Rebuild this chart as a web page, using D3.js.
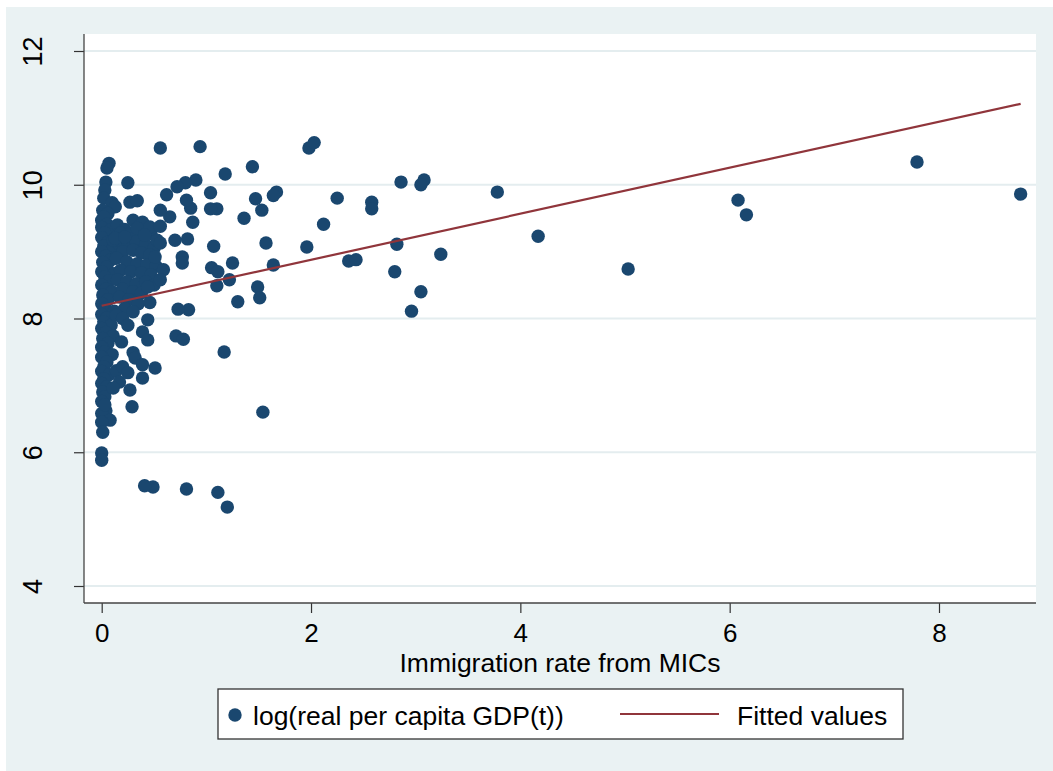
<!DOCTYPE html>
<html>
<head>
<meta charset="utf-8">
<script src="https://cdn.jsdelivr.net/npm/d3@7"></script>
<style>
  html, body { margin: 0; padding: 0; background: #ffffff; }
  svg { display: block; font-family: "Liberation Sans", Arial, sans-serif; }
</style>
</head>
<body>
<div id="chart"></div>
<script>
// scatter data: [immigration rate from MICs, log real per capita GDP]
const nearZero = [
  [0.07, 10.32], [0.05, 10.25], [0.04, 10.04], [0.03, 9.92], [0.02, 9.80], [0.10, 9.73], [0.13, 9.67],
  [0.00, 9.47], [0.01, 9.62], [0.06, 9.57], [0.02, 9.52], [0.05, 9.41], [0.00, 9.36], [0.09, 9.33],
  [0.03, 9.28], [0.00, 9.21], [0.06, 9.14], [0.02, 9.08], [0.11, 9.05], [0.00, 9.00], [0.04, 8.93],
  [0.09, 8.88], [0.01, 8.84], [0.05, 8.77], [0.00, 8.70], [0.12, 8.67], [0.03, 8.62], [0.07, 8.56],
  [0.00, 8.50], [0.04, 8.44], [0.10, 8.40], [0.01, 8.35], [0.06, 8.28], [0.00, 8.22], [0.03, 8.15],
  [0.12, 8.11], [0.00, 8.06], [0.05, 8.01], [0.02, 7.95], [0.09, 7.90], [0.00, 7.85], [0.04, 7.79],
  [0.11, 7.74], [0.01, 7.70], [0.06, 7.63], [0.00, 7.57], [0.03, 7.50], [0.10, 7.46], [0.00, 7.42],
  [0.05, 7.35], [0.02, 7.28], [0.00, 7.21], [0.07, 7.16], [0.02, 7.10], [0.00, 7.03], [0.05, 6.98],
  [0.01, 6.90], [0.03, 6.83], [0.00, 6.76], [0.04, 6.62], [0.00, 6.58], [0.03, 6.71], [0.08, 6.48],
  [0.00, 6.45], [0.01, 6.30], [0.00, 5.99], [0.00, 5.88]
];

const denseBlob = [
  [0.15, 9.40], [0.22, 9.33], [0.18, 9.28], [0.28, 9.28], [0.38, 9.30], [0.47, 9.27], [0.16, 9.12],
  [0.25, 9.10], [0.33, 9.15], [0.42, 9.10], [0.50, 9.05], [0.20, 9.00], [0.30, 9.02],
  [0.38, 8.98], [0.46, 8.95], [0.14, 8.90], [0.24, 8.85], [0.34, 8.82],
  [0.43, 8.80], [0.52, 8.78], [0.18, 8.72], [0.28, 8.70], [0.38, 8.68], [0.47, 8.65],
  [0.15, 8.58], [0.24, 8.55], [0.33, 8.52], [0.42, 8.55], [0.50, 8.50], [0.20, 8.44],
  [0.30, 8.40], [0.38, 8.38], [0.17, 8.32], [0.26, 8.28], [0.35, 8.22], [0.22, 8.15], [0.14, 8.05],
  [0.20, 8.00], [0.30, 8.10], [0.14, 7.22], [0.17, 7.05],
  [0.11, 9.17], [0.13, 9.20], [0.22, 9.22]
];

const midRange = [
  [1.67, 9.89], [1.64, 9.84], [1.53, 9.62], [1.47, 9.79], [1.44, 10.27], [1.57, 9.13], [1.64, 8.80],
  [1.49, 8.47], [1.51, 8.31], [1.54, 6.60], [1.36, 9.50], [1.30, 8.25], [1.25, 8.83], [1.22, 8.58],
  [1.18, 10.16], [1.17, 7.50], [1.20, 5.18], [1.11, 5.40], [1.10, 9.64], [1.04, 9.64], [1.04, 9.88],
  [1.07, 9.08], [1.05, 8.76], [1.11, 8.70], [1.10, 8.49], [0.94, 10.57], [0.90, 10.07], [0.87, 9.44],
  [0.85, 9.65], [0.81, 9.77], [0.80, 10.03], [0.82, 9.19], [0.77, 8.92], [0.77, 8.83], [0.83, 8.13],
  [0.73, 8.14], [0.71, 7.74], [0.78, 7.69], [0.81, 5.45], [0.72, 9.97], [0.70, 9.17], [0.56, 10.55],
  [0.62, 9.85], [0.65, 9.52], [0.56, 9.62], [0.51, 7.26], [0.49, 5.48], [0.41, 5.50],
  [0.25, 10.03], [0.27, 9.74], [0.34, 9.76], [0.30, 9.47], [0.39, 9.44], [0.46, 9.37], [0.56, 9.38],
  [0.34, 9.35], [0.41, 9.25], [0.53, 9.17], [0.56, 9.13], [0.51, 8.92], [0.59, 8.73], [0.56, 8.58],
  [0.44, 8.47], [0.46, 8.24], [0.25, 7.90], [0.44, 7.98], [0.39, 7.80], [0.44, 7.68], [0.19, 7.65],
  [0.30, 7.49], [0.32, 7.41], [0.39, 7.31], [0.20, 7.28], [0.25, 7.19], [0.39, 7.11], [0.27, 6.93],
  [0.11, 6.96], [0.29, 6.68]
];

const farPoints = [
  [7.79, 10.34], [8.78, 9.86], [6.08, 9.77], [6.16, 9.55], [4.17, 9.23], [5.03, 8.74], [3.78, 9.89],
  [3.08, 10.07], [3.05, 10.00], [2.86, 10.04], [3.24, 8.96], [3.05, 8.40], [2.96, 8.11], [2.82, 9.11],
  [2.80, 8.70], [2.58, 9.74], [2.58, 9.64], [2.25, 9.80], [2.12, 9.41], [1.98, 10.55], [2.03, 10.63],
  [1.96, 9.07], [2.36, 8.86], [2.43, 8.88]
];

// fitted values line (end points)
const fittedX = [0.00, 8.78];
const fittedY = [8.19, 11.21];

const xTicks = [0, 2, 4, 6, 8];
const yTicks = [4, 6, 8, 10, 12];

const xTitle = "Immigration rate from MICs";
const legendLabels = ["log(real per capita GDP(t))", "Fitted values"];

const navy = "#1A476F";
const maroon = "#90353B";
const bgBlue = "#EAF2F3";
const gridColor = "#E4EDEF";

const width = 1053;
const height = 771;

const plot = { left: 84, right: 1036, top: 34, bottom: 603 };

const svg = d3.select("#chart")
  .append("svg")
  .attr("width", width)
  .attr("height", height);

// outer graph region
svg.append("rect")
  .attr("x", 6).attr("y", 7)
  .attr("width", width - 6).attr("height", height - 7)
  .attr("fill", bgBlue);

// plot region
svg.append("rect")
  .attr("x", plot.left).attr("y", plot.top)
  .attr("width", plot.right - plot.left).attr("height", plot.bottom - plot.top)
  .attr("fill", "#ffffff");

const x = d3.scaleLinear().domain([0, 8]).range([101.7, 939]);
const y = d3.scaleLinear().domain([4, 12]).range([586, 51]);

// gridlines
svg.append("g")
  .selectAll("line")
  .data(yTicks)
  .enter()
  .append("line")
  .attr("x1", plot.left)
  .attr("x2", plot.right)
  .attr("y1", (d) => y(d))
  .attr("y2", (d) => y(d))
  .attr("stroke", gridColor)
  .attr("stroke-width", 2);

// axes
const yAxis = svg.append("g")
  .attr("transform", `translate(${plot.left},0)`)
  .call(d3.axisLeft(y).tickValues(yTicks).tickSize(10).tickPadding(0).tickFormat(d3.format("d")));

yAxis.select(".domain").remove();
yAxis.selectAll(".tick line").attr("stroke", "#333").attr("stroke-width", 1.2);
yAxis.selectAll(".tick text")
  .attr("x", 0).attr("dy", 0)
  .attr("transform", `translate(${42 - plot.left},0) rotate(-90)`)
  .attr("text-anchor", "middle")
  .style("font-size", "27px")
  .style("font-family", "'Liberation Sans', Arial, sans-serif")
  .attr("fill", "#000");

const xAxis = svg.append("g")
  .attr("transform", `translate(0,${plot.bottom})`)
  .call(d3.axisBottom(x).tickValues(xTicks).tickSize(10).tickPadding(0).tickFormat(d3.format("d")));

xAxis.select(".domain").remove();
xAxis.selectAll(".tick line").attr("stroke", "#333").attr("stroke-width", 1.2);
xAxis.selectAll(".tick text")
  .attr("y", 39).attr("dy", 0)
  .style("font-size", "26px")
  .style("font-family", "'Liberation Sans', Arial, sans-serif")
  .attr("fill", "#000");

// axis lines
svg.append("line")
  .attr("x1", plot.left).attr("x2", plot.left)
  .attr("y1", plot.top).attr("y2", plot.bottom)
  .attr("stroke", "#444").attr("stroke-width", 1.3);

svg.append("line")
  .attr("x1", plot.left).attr("x2", plot.right)
  .attr("y1", plot.bottom).attr("y2", plot.bottom)
  .attr("stroke", "#444").attr("stroke-width", 1.3);

// x title
svg.append("text")
  .attr("x", (plot.left + plot.right) / 2)
  .attr("y", 672)
  .attr("text-anchor", "middle")
  .style("font-size", "26.5px")
  .attr("fill", "#000")
  .text(xTitle);

// scatter
const allPoints = nearZero.concat(denseBlob, midRange, farPoints);

svg.append("g")
  .selectAll("circle")
  .data(allPoints)
  .enter()
  .append("circle")
  .attr("cx", (d) => x(d[0]))
  .attr("cy", (d) => y(d[1]))
  .attr("r", 6.7)
  .attr("fill", navy);

// fitted line
const fitLine = d3.line()
  .x((d) => x(d[0]))
  .y((d) => y(d[1]));

svg.append("path")
  .datum(fittedX.map((v, i) => [v, fittedY[i]]))
  .attr("d", fitLine)
  .attr("fill", "none")
  .attr("stroke", maroon)
  .attr("stroke-width", 2.2);

// legend
const legend = svg.append("g");

legend.append("rect")
  .attr("x", 218).attr("y", 689)
  .attr("width", 685).attr("height", 50)
  .attr("fill", "#ffffff")
  .attr("stroke", "#333")
  .attr("stroke-width", 1.3);

legend.append("circle")
  .attr("cx", 235).attr("cy", 715)
  .attr("r", 6.7)
  .attr("fill", navy);

legend.append("text")
  .attr("x", 253).attr("y", 725)
  .style("font-size", "26.5px")
  .attr("fill", "#000")
  .text(legendLabels[0]);

legend.append("line")
  .attr("x1", 620).attr("x2", 719)
  .attr("y1", 714).attr("y2", 714)
  .attr("stroke", maroon)
  .attr("stroke-width", 2.2);

legend.append("text")
  .attr("x", 737).attr("y", 725)
  .style("font-size", "26.5px")
  .attr("fill", "#000")
  .text(legendLabels[1]);
</script>
</body>
</html>
